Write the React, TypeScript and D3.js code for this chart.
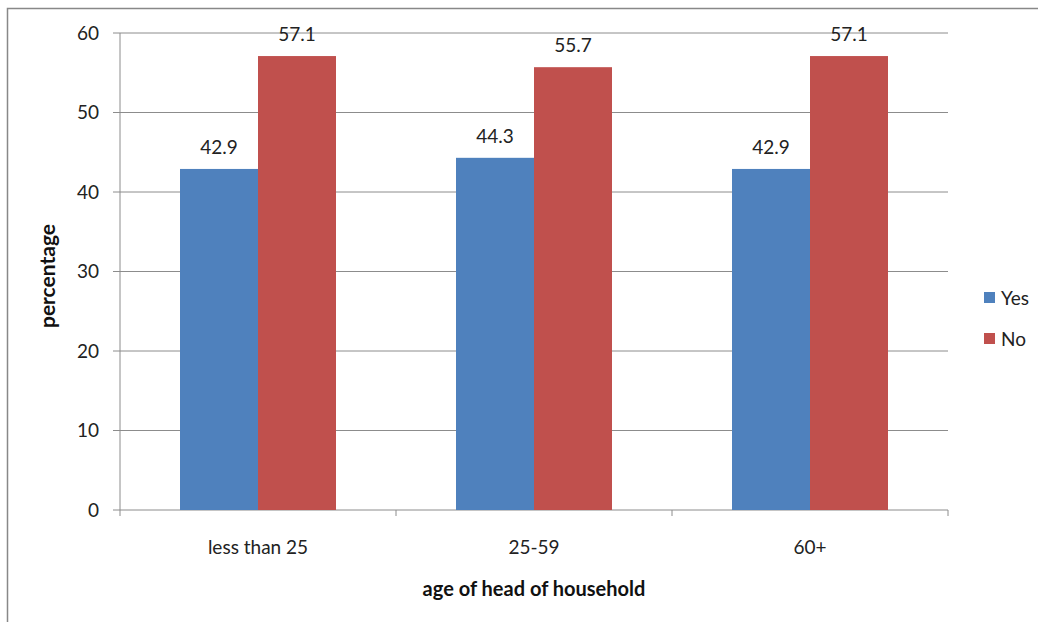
import React from "react";
import * as d3 from "d3";

const categories = ["less than 25", "25-59", "60+"];
const seriesNames = ["Yes", "No"];
const yesValues = [42.9, 44.3, 42.9];
const noValues = [57.1, 55.7, 57.1];
const yTicks = [0, 10, 20, 30, 40, 50, 60];
const colors = ["#4F81BD", "#C0504D"];

const W = 1038;
const H = 622;
const plot = { left: 120, right: 948, top: 33, bottom: 510 };
const font = "Lato, 'Open Sans', sans-serif";

export default function App() {
  const x = d3.scaleBand<string>().domain(categories).range([plot.left, plot.right]);
  // bars fill the middle of each category band, leaving equal gaps on both sides
  const inner = d3.scaleBand<string>().domain(seriesNames).range([0, x.bandwidth()]).paddingInner(0).paddingOuter(0.7692);
  const y = d3.scaleLinear().domain([0, 60]).range([plot.bottom, plot.top]);
  const series = [yesValues, noValues];
  const boundaries = [...categories.map((c) => x(c)!), plot.right];

  return (
    <div style={{ position: "fixed", left: 0, top: 0 }}>
      <svg width={W} height={H} style={{ display: "block", background: "#fff" }}>
        <rect x={7.5} y={8.5} width={W + 10} height={H + 10} fill="#fff" stroke="#888" strokeWidth={1.5} />
        {yTicks.map((t) => (
          <g key={t}>
            <line x1={plot.left - 7} x2={plot.right} y1={y(t)} y2={y(t)} stroke="#8c8c8c" strokeWidth={1} />
            <text x={plot.left - 21} y={y(t)} dy="0.36em" textAnchor="end" fontFamily={font} fontSize={19} fill="#222">
              {t}
            </text>
          </g>
        ))}
        <line x1={plot.left} x2={plot.left} y1={plot.top} y2={plot.bottom} stroke="#8c8c8c" />
        {boundaries.map((b, i) => (
          <line key={i} x1={b} x2={b} y1={plot.bottom} y2={plot.bottom + 6} stroke="#8c8c8c" />
        ))}
        {categories.map((c, ci) => (
          <g key={c}>
            {series.map((vals, si) => {
              const bx = x(c)! + inner(seriesNames[si])!;
              return (
                <g key={si}>
                  <rect x={bx} y={y(vals[ci])} width={inner.bandwidth()} height={plot.bottom - y(vals[ci])} fill={colors[si]} />
                  <text x={bx + inner.bandwidth() / 2} y={y(vals[ci]) - 15} textAnchor="middle" fontFamily={font} fontSize={19} fill="#222">
                    {vals[ci].toFixed(1)}
                  </text>
                </g>
              );
            })}
            <text x={x(c)! + x.bandwidth() / 2} y={554} textAnchor="middle" fontFamily={font} fontSize={19} fill="#222">
              {c}
            </text>
          </g>
        ))}
        <text x={534} y={596} textAnchor="middle" fontFamily={font} fontSize={20} fontWeight="bold" fill="#111">
          age of head of household
        </text>
        <text transform={`translate(55,276) rotate(-90)`} textAnchor="middle" fontFamily={font} fontSize={21} fontWeight="bold" fill="#111">
          percentage
        </text>
        {seriesNames.map((s, i) => (
          <g key={s} transform={`translate(984,${298 + i * 41})`}>
            <rect x={0} y={-6} width={11} height={11} fill={colors[i]} />
            <text x={17} y={0} dy="0.36em" fontFamily={font} fontSize={19} fill="#222">
              {s}
            </text>
          </g>
        ))}
      </svg>
    </div>
  );
}
